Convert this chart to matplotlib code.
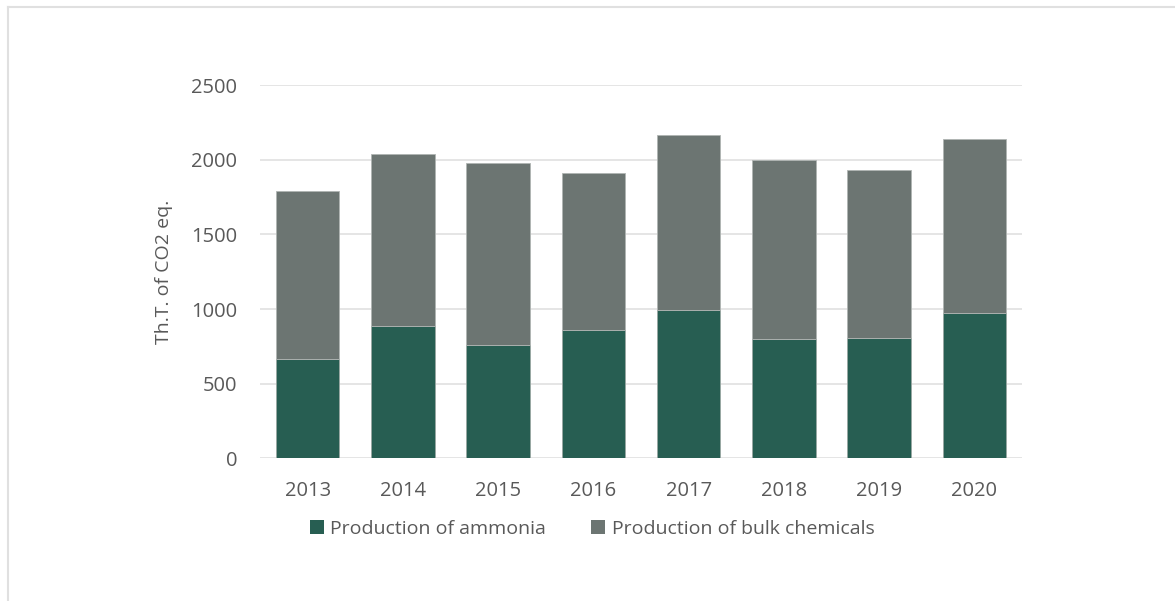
import matplotlib
matplotlib.use("Agg")
import matplotlib.pyplot as plt
from matplotlib.lines import Line2D
from matplotlib.patches import Patch
import numpy as np

years = ["2013", "2014", "2015", "2016", "2017", "2018", "2019", "2020"]
ammonia = [667, 889, 761, 860, 994, 802, 808, 976]
bulk = [1125, 1153, 1220, 1054, 1173, 1198, 1122, 1166]
series_names = ["Production of ammonia", "Production of bulk chemicals"]
yticks = [0, 500, 1000, 1500, 2000, 2500]

c_amm = "#275E52"
c_bulk = "#6C7572"
txt = "#595959"
grid_c = "#E3E3E3"

plt.rcParams['font.family'] = ['Open Sans', 'DejaVu Sans']

W, H = 1175, 601
fig = plt.figure(figsize=(W / 100, H / 100), dpi=100)
ax = fig.add_axes([260 / W, 1 - 458.3 / H, (1022 - 260) / W, (458.3 - 85.3) / H])

x = np.arange(len(years))
ax.bar(x, ammonia, width=0.668, color=c_amm, edgecolor="#9aa7a3", linewidth=0.6, zorder=3)
ax.bar(x, bulk, bottom=ammonia, width=0.668, color=c_bulk, edgecolor="#b0b5b3", linewidth=0.6, zorder=3)

ax.set_xlim(-0.5, len(years) - 0.5)
ax.set_ylim(0, 2500)
ax.set_yticks(yticks)
ax.set_yticklabels([str(v) for v in yticks])
ax.set_xticks(x)
ax.set_xticklabels(years)
ax.yaxis.grid(True, color=grid_c, linewidth=1.3, zorder=0)
ax.set_axisbelow(True)
for s in ax.spines.values():
    s.set_visible(False)
ax.tick_params(axis='both', length=0, labelsize=14.5, colors=txt)
ax.tick_params(axis='y', pad=16.5)
ax.tick_params(axis='x', pad=16)
ax.set_ylabel("Th.T. of CO2 eq.", fontsize=14, color=txt)
ax.yaxis.set_label_coords((173 - 260) / (1022 - 260), 0.5)

handles = [Patch(facecolor=c_amm, edgecolor='none'), Patch(facecolor=c_bulk, edgecolor='none')]
leg = fig.legend(handles, series_names, loc='center', bbox_to_anchor=(592 / W, 1 - 529 / H),
                 ncol=2, frameon=False, fontsize=14, handlelength=0.72, handleheight=0.72,
                 handletextpad=0.35, columnspacing=2.3, labelcolor=txt)

# outer frame lines
fig.add_artist(Line2D([7.5 / W, 7.5 / W], [0, 1 - 6.5 / H], transform=fig.transFigure, color="#E0E0E0", linewidth=1.5))
fig.add_artist(Line2D([7.5 / W, 1], [1 - 6.5 / H, 1 - 6.5 / H], transform=fig.transFigure, color="#E0E0E0", linewidth=1.5))

fig.savefig("out.png", dpi=100, facecolor="white")
